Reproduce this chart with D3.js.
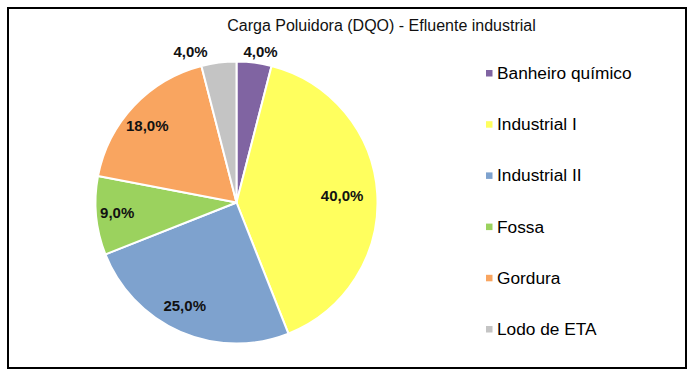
<!DOCTYPE html>
<html><head><meta charset="utf-8">
<script src="https://cdn.jsdelivr.net/npm/d3@7"></script>
<style>
html,body{margin:0;padding:0;background:#fff;}
svg{display:block;font-family:"Liberation Sans",Arial,sans-serif;}
</style></head>
<body><svg id="c" width="697" height="378"></svg>
<script>
const title = "Carga Poluidora (DQO) - Efluente industrial";
const categories = ["Banheiro químico","Industrial I","Industrial II","Fossa","Gordura","Lodo de ETA"];
const values = [4.0, 40.0, 25.0, 9.0, 18.0, 4.0];
const colors = ["#8064A2","#FFFF5E","#7EA2CE","#9BD25E","#F9A560","#C4C4C4"];

const svg = d3.select("#c");
svg.append("rect").attr("x",8).attr("y",8).attr("width",678).attr("height",360)
  .attr("fill","#fff").attr("stroke","#000").attr("stroke-width",2);

svg.append("text").attr("x",381.5).attr("y",31).attr("text-anchor","middle")
  .attr("font-size",16).attr("fill","#111").text(title);

const cx = 236.5, cy = 202.5, R = 141;
const g = svg.append("g").attr("transform",`translate(${cx},${cy})`);
const pie = d3.pie().sort(null).value(d=>d)(values);
const arc = d3.arc().innerRadius(0).outerRadius(R);
g.selectAll("path").data(pie).join("path")
  .attr("d",arc).attr("fill",(d,i)=>colors[i])
  .attr("stroke","#fff").attr("stroke-width",2).attr("stroke-linejoin","round");

const fmt = v => v.toFixed(1).replace(".",",") + "%";
const inner = d3.arc().innerRadius(R*0.8).outerRadius(R*0.8);
const outer = d3.arc().innerRadius(R+11).outerRadius(R+11);
const labels = pie.map((d,i)=>{
  const small = d.value < 5;
  const p = (small ? outer : inner).centroid(d);
  return {x:p[0] + (small ? 0 : -7), y:p[1], text:fmt(d.value), small, i};
});
// simple collision avoidance for outside labels
const lw = 34;
const outs = labels.filter(l=>l.small).sort((a,b)=>a.x-b.x);
for (let k=outs.length-1;k>0;k--){
  const a = outs[k-1], b = outs[k];
  if (Math.abs(a.y-b.y) < 14 && b.x - a.x < lw + 32) { a.x = b.x - (lw + 32); }
}
outs.forEach(l=>{ if (l.x>0) l.x += 5; else l.x += 1; });
g.selectAll("text.lbl").data(labels).join("text").attr("class","lbl")
  .attr("x",d=>d.x).attr("y",d=>d.y).attr("dy","0.35em")
  .attr("text-anchor","middle").attr("font-size",15).attr("font-weight","bold")
  .attr("fill","#111").text(d=>d.text);

const leg = svg.append("g");
const ly = d3.scalePoint().domain(categories).range([73,329]);
const items = leg.selectAll("g").data(categories).join("g")
  .attr("transform",d=>`translate(486,${ly(d)})`);
items.append("rect").attr("x",0).attr("y",-3).attr("width",6.5).attr("height",6.5)
  .attr("fill",(d,i)=>colors[i]);
items.append("text").attr("x",11).attr("y",0).attr("dy","0.35em")
  .attr("font-size",17.3).attr("fill","#000").text(d=>d);
</script></body></html>
